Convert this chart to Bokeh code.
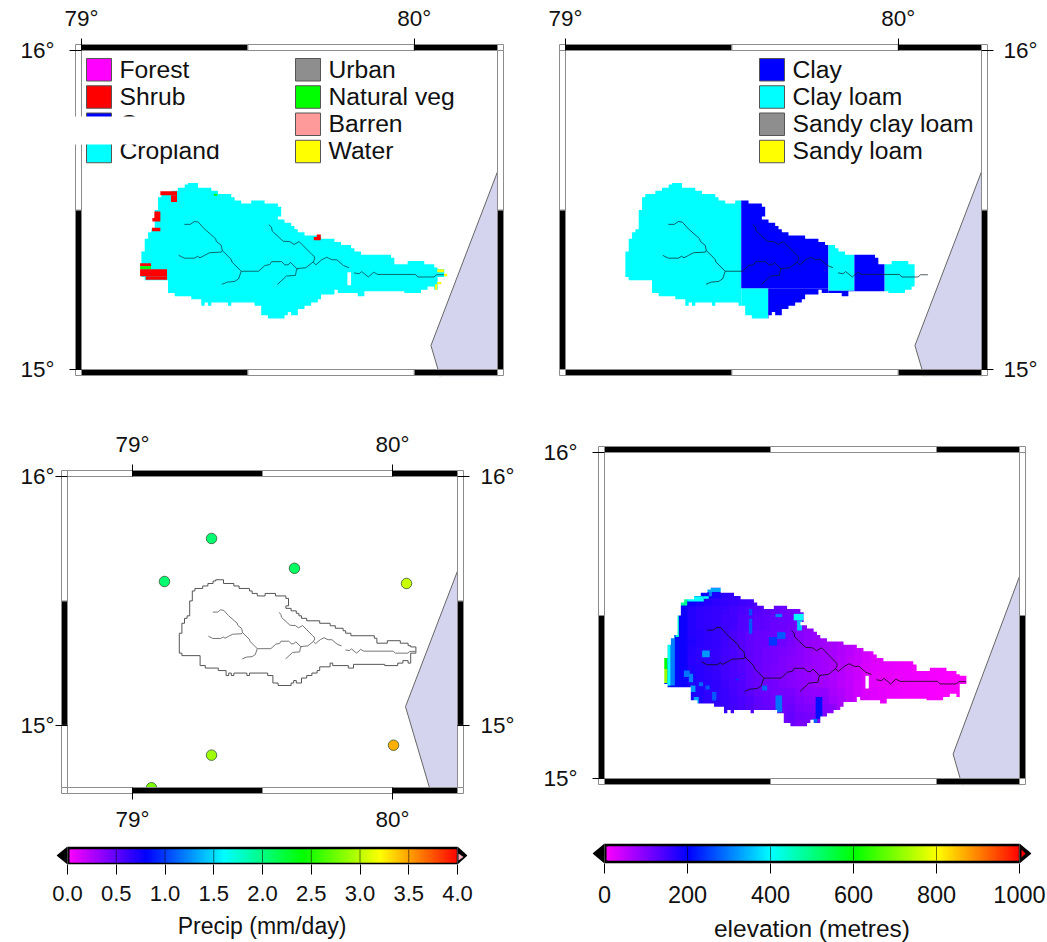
from bokeh.plotting import figure
from bokeh.layouts import column, row
from bokeh.models import Range1d, LinearAxis, FixedTicker
from bokeh.core.properties import value
from bokeh.embed import file_html
from bokeh.resources import INLINE

FONT = "Liberation Sans"
SEA = "#d4d4ee"
FRAME_GREY = "#8c8c8c"

# catchment outline (raster edge), degrees
OUT_LON = [79.18,79.19,79.19,79.20,79.20,79.21,79.21,79.22,79.22,79.23,79.23,79.24,79.24,79.27,79.27,79.29,79.29,79.31,79.31,79.32,79.32,79.35,79.35,79.39,79.39,79.41,79.41,79.45,79.45,79.46,79.46,79.48,79.48,79.51,79.51,79.55,79.55,79.59,79.59,79.60,79.60,79.59,79.59,79.61,79.61,79.63,79.63,79.64,79.64,79.65,79.65,79.67,79.67,79.72,79.72,79.76,79.76,79.78,79.78,79.81,79.81,79.82,79.82,79.84,79.84,79.87,79.87,79.93,79.93,79.94,79.94,79.98,79.98,80.03,80.03,80.06,80.06,80.07,80.07,80.09,80.09,80.07,80.07,80.06,80.06,80.04,80.04,80.02,80.02,79.97,79.97,79.85,79.85,79.83,79.83,79.77,79.77,79.76,79.76,79.72,79.72,79.71,79.71,79.69,79.69,79.67,79.67,79.65,79.65,79.63,79.63,79.62,79.62,79.61,79.61,79.56,79.56,79.54,79.54,79.52,79.52,79.45,79.45,79.44,79.44,79.39,79.39,79.38,79.38,79.37,79.37,79.36,79.36,79.33,79.33,79.28,79.28,79.26,79.26,79.19,79.19,79.18]
OUT_LAT = [15.37,15.37,15.41,15.41,15.43,15.43,15.44,15.44,15.50,15.50,15.54,15.54,15.55,15.55,15.56,15.56,15.57,15.57,15.58,15.58,15.585,15.585,15.57,15.57,15.56,15.56,15.55,15.55,15.54,15.54,15.53,15.53,15.52,15.52,15.53,15.53,15.52,15.52,15.51,15.51,15.48,15.48,15.47,15.47,15.46,15.46,15.45,15.45,15.44,15.44,15.43,15.43,15.42,15.42,15.41,15.41,15.40,15.40,15.39,15.39,15.38,15.38,15.37,15.37,15.36,15.36,15.36,15.36,15.35,15.35,15.33,15.33,15.34,15.34,15.33,15.33,15.32,15.32,15.315,15.315,15.29,15.29,15.25,15.25,15.26,15.26,15.25,15.25,15.24,15.24,15.245,15.245,15.23,15.23,15.24,15.24,15.25,15.25,15.235,15.235,15.22,15.22,15.21,15.21,15.20,15.20,15.19,15.19,15.17,15.17,15.18,15.18,15.17,15.17,15.16,15.16,15.17,15.17,15.20,15.20,15.21,15.21,15.20,15.20,15.21,15.21,15.20,15.20,15.21,15.21,15.20,15.20,15.22,15.22,15.23,15.23,15.24,15.24,15.28,15.28,15.29,15.29]

# coastline / sea polygon
COAST_LON = [80.25, 80.05, 80.142, 80.25]
COAST_LAT = [15.62, 15.075, 14.75, 14.75]

# rivers
RIV_LON = [
 [79.309,79.327,79.339,79.351,79.369,79.403,79.405,79.420,79.423,79.450,79.452,79.480],
 [79.292,79.309,79.339,79.349,79.356,79.370,79.385,79.420,79.423],
 [79.480,79.472,79.460,79.438,79.422],
 [79.480,79.532,79.551,79.566,79.571,79.601,79.611,79.621,79.628,79.648,79.652,79.674,79.696,79.701,79.699,79.693,79.654,79.639,79.626,79.606,79.573,79.571,79.563],
 [79.589,79.616,79.643,79.646,79.652],
 [79.696,79.704,79.722,79.737,79.752,79.767,79.787,79.804],
 [79.819,79.834,79.842,79.862,79.878,79.890,80.003,80.011,80.059,80.067,80.089],
]
RIV_LAT = [
 [15.455,15.455,15.464,15.462,15.441,15.410,15.402,15.389,15.373,15.345,15.337,15.308],
 [15.358,15.349,15.349,15.355,15.350,15.358,15.366,15.368,15.373],
 [15.308,15.284,15.276,15.274,15.267],
 [15.308,15.308,15.326,15.329,15.338,15.338,15.328,15.328,15.336,15.315,15.317,15.319,15.337,15.347,15.355,15.360,15.401,15.392,15.401,15.402,15.434,15.446,15.454],
 [15.267,15.293,15.295,15.313,15.317],
 [15.337,15.328,15.344,15.352,15.344,15.344,15.326,15.319],
 [15.303,15.300,15.307,15.290,15.305,15.298,15.298,15.290,15.290,15.297,15.297],
]

# land cover patches (lon0, lon1, lat0, lat1)
LC_LON0 = [79.237,79.269,79.219,79.213,79.212,79.176,79.176,79.176,79.193,79.707,79.698,79.398,80.069,80.089,80.069,80.062]
LC_LON1 = [79.287,79.287,79.237,79.237,79.237,79.209,79.209,79.257,79.257,79.719,79.719,79.408,80.089,80.099,80.081,80.069]
LC_LAT0 = [15.546,15.525,15.475,15.464,15.433,15.324,15.314,15.292,15.281,15.415,15.405,15.545,15.305,15.292,15.267,15.250]
LC_LAT1 = [15.559,15.546,15.495,15.475,15.444,15.333,15.324,15.314,15.292,15.423,15.415,15.551,15.314,15.300,15.274,15.267]
LC_CLASS = ["Shrub"]*5 + ["Shrub","Natural veg","Shrub","Shrub","Shrub","Shrub","Natural veg","Water","Water","Water","Water"]
LC_NAMES_A = ["Forest","Shrub","Grass","Cropland"]
LC_NAMES_B = ["Urban","Natural veg","Barren","Water"]
LC_COLOR = {"Forest":"#ff00ff","Shrub":"#ff0000","Grass":"#0000ff","Cropland":"#00ffff",
            "Urban":"#8e8e8e","Natural veg":"#00ff00","Barren":"#ff9a9a","Water":"#ffff00"}

# soil zones
SOIL_LON0 = [79.16,79.528,79.528,79.609,79.790,79.790,79.868,79.959]
SOIL_LON1 = [79.528,79.609,79.790,79.790,79.868,79.868,79.959,80.049]
SOIL_LAT0 = [15.13,15.13,15.255,15.13,15.247,15.13,15.13,15.13]
SOIL_LAT1 = [15.60,15.255,15.60,15.255,15.60,15.247,15.60,15.60]
SOIL_CLASS = ["Clay loam","Clay loam","Clay","Clay","Clay loam","Clay","Clay","Clay loam"]
SOIL_NAMES = ["Clay","Clay loam","Sandy clay loam","Sandy loam"]
SOIL_COLOR = {"Clay":"#0000ff","Clay loam":"#00ffff","Sandy clay loam":"#8e8e8e","Sandy loam":"#ffff00"}

# precip stations
ST_LON = [79.304,79.623,79.123,80.054,80.004,79.304,79.073]
ST_LAT = [15.751,15.631,15.578,15.570,14.920,14.880,14.749]
ST_PRECIP = [2.05,2.1,2.05,3.03,3.45,2.9,2.8]

# elevation (m) on a 0.025 degree grid, north to south, from 79.175E and 15.60N
ELEV_LON0 = 79.175
ELEV_LAT0 = 15.60
ELEV_STEP = 0.025
ELEV = [
 [230,230,230,230,230,210,210,190,165,150,140,130,120,115,110,100,95,90,85,80,75,70,60,55,45,35,30,25,20,18,15,12,10,8,6,5,4,3],
 [230,230,230,210,200,190,180,168,160,158,152,148,125,118,112,105,100,95,85,80,75,70,60,55,45,35,30,25,20,18,15,12,10,8,6,5,4,3],
 [230,230,205,188,178,170,165,160,156,152,148,138,130,120,112,108,104,100,85,80,75,70,60,55,45,35,30,25,20,18,15,12,10,8,6,5,4,3],
 [230,210,190,172,165,162,158,155,148,143,138,133,128,122,115,110,104,100,88,80,75,70,60,55,45,35,30,25,20,18,15,12,10,8,6,5,4,3],
 [230,210,190,172,165,160,158,150,148,138,133,128,125,120,115,112,104,95,88,80,75,70,60,55,45,35,30,25,20,18,15,12,10,8,6,5,4,3],
 [230,210,190,172,165,162,158,152,148,138,133,128,125,118,115,110,100,90,85,80,75,70,60,55,45,35,30,25,20,18,15,12,10,8,6,5,4,3],
 [230,208,190,172,168,162,158,152,143,133,125,120,118,115,112,108,95,88,80,78,72,66,60,52,45,35,30,25,20,18,15,12,10,8,6,5,4,3],
 [230,208,190,176,168,162,160,152,143,133,125,120,118,115,112,105,95,85,80,75,70,62,55,48,40,35,28,24,20,18,15,12,10,8,6,5,4,3],
 [230,208,190,170,165,162,158,148,143,133,125,120,112,108,105,100,92,85,78,72,68,60,55,45,35,28,25,22,20,18,15,12,10,8,6,5,4,3],
 [230,208,190,168,165,162,158,148,143,133,125,118,112,108,100,95,90,85,78,72,68,60,52,42,32,26,24,20,18,15,12,10,8,6,5,4,3,2],
 [230,208,190,172,168,162,158,148,143,133,125,118,110,105,100,95,90,82,78,72,65,58,50,40,30,24,22,18,16,14,12,10,8,6,5,4,3,2],
 [230,208,190,176,168,162,158,148,143,138,125,118,110,105,100,95,88,82,78,72,65,58,50,40,28,22,20,18,16,14,12,10,8,6,5,4,3,2],
 [230,208,190,176,172,168,162,152,143,138,125,118,112,108,100,95,90,85,80,72,65,55,48,38,26,22,20,18,15,12,10,8,6,5,4,3,2,2],
 [230,208,190,180,172,165,162,156,146,138,130,120,115,110,108,105,95,88,85,85,70,60,50,38,28,24,20,16,14,12,10,8,6,5,4,3,2,2],
 [230,208,190,180,172,165,162,156,148,143,135,125,118,112,110,110,100,92,90,90,75,65,52,40,30,24,20,16,14,12,10,8,6,5,4,3,2,2],
 [230,208,190,180,172,165,160,156,148,143,135,125,120,115,112,115,105,100,98,95,90,70,52,40,30,24,20,16,14,12,10,8,6,5,4,3,2,2],
 [230,208,190,180,172,165,160,156,148,143,135,125,120,115,112,120,110,108,105,100,95,70,52,40,30,24,20,16,14,12,10,8,6,5,4,3,2,2],
 [230,208,190,180,172,165,160,156,148,143,135,125,120,115,112,115,105,108,105,100,95,70,52,40,30,24,20,16,14,12,10,8,6,5,4,3,2,2],
]
# small high spots and the western rim: lon0, lon1, lat0, lat1, metres
SPOT_LON0 = [79.214,79.229,79.249,79.304,79.314,79.299,79.199,79.189,79.174,79.174,79.515,79.435,79.435,79.495,79.520,79.294,79.239,79.254,79.284,79.304,79.395,79.475,79.324,79.515,79.636,79.626,79.259,79.269,79.570,79.580]
SPOT_LON1 = [79.224,79.249,79.299,79.354,79.324,79.314,79.212,79.199,79.189,79.189,79.535,79.445,79.445,79.520,79.545,79.317,79.257,79.267,79.297,79.317,79.405,79.490,79.337,79.535,79.656,79.641,79.274,79.284,79.600,79.595]
SPOT_LAT0 = [15.434,15.531,15.543,15.572,15.559,15.551,15.285,15.285,15.311,15.293,15.495,15.500,15.444,15.408,15.428,15.372,15.311,15.295,15.283,15.273,15.301,15.270,15.239,15.203,15.183,15.171,15.265,15.229,15.485,15.454]
SPOT_LAT1 = [15.531,15.551,15.559,15.584,15.572,15.559,15.439,15.428,15.408,15.336,15.505,15.520,15.490,15.434,15.449,15.393,15.331,15.321,15.295,15.285,15.306,15.285,15.265,15.255,15.250,15.183,15.285,15.250,15.505,15.485]
SPOT_ELEV = [440,490,400,330,300,400,300,400,600,720,300,260,270,240,270,320,290,300,280,270,240,280,270,290,210,280,320,330,400,350]

# colour ramp
RAMP_POS = [0.0,0.2,0.4,0.6,0.8,1.0]
RAMP_RGB = [(255,0,255),(0,0,255),(0,255,255),(0,255,0),(255,255,0),(255,0,0)]

PRECIP_TICKS = [0.0,0.5,1.0,1.5,2.0,2.5,3.0,3.5,4.0]
ELEV_TICKS = [0,200,400,600,800,1000]
LON_TICKS = [79,80]
LAT_TICKS = [15,16]


def ramp(t):
    t = max(0.0, min(1.0, t))
    for i in range(len(RAMP_POS) - 1):
        if t <= RAMP_POS[i + 1]:
            f = (t - RAMP_POS[i]) / (RAMP_POS[i + 1] - RAMP_POS[i])
            a, b = RAMP_RGB[i], RAMP_RGB[i + 1]
            return "#%02x%02x%02x" % tuple(round(a[c] + (b[c] - a[c]) * f) for c in range(3))
    return "#ff0000"


class Panel:
    def __init__(self, fx0, fx1, fy0, fy1, ix0, iy0, ix1, iy1, lon0, lon1, lat0, lat1):
        self.ix0, self.iy0, self.lon0, self.lat1 = ix0, iy0, lon0, lat1
        self.lon1, self.lat0 = lon1, lat0
        self.sx = (lon1 - lon0) / (ix1 - ix0)
        self.sy = (lat1 - lat0) / (iy1 - iy0)
        self.p = figure(width=fx1 - fx0, height=fy1 - fy0,
                        frame_width=ix1 - ix0 + 14, frame_height=iy1 - iy0 + 14,
                        min_border_left=ix0 - 7 - fx0, min_border_right=fx1 - ix1 - 7,
                        min_border_top=iy0 - 7 - fy0, min_border_bottom=fy1 - iy1 - 7,
                        x_range=Range1d(lon0 - 7 * self.sx, lon1 + 7 * self.sx),
                        y_range=Range1d(lat0 - 7 * self.sy, lat1 + 7 * self.sy),
                        x_axis_type=None, y_axis_type=None, toolbar_location=None,
                        output_backend="svg", outline_line_color=None, frame_align=False)

    def lon(self, px):
        return self.lon0 + (px - self.ix0) * self.sx

    def lat(self, py):
        return self.lat1 - (py - self.iy0) * self.sy

    def frame(self):
        p, sx, sy = self.p, self.sx, self.sy
        l0, l1, a0, a1 = self.lon0, self.lon1, self.lat0, self.lat1
        # strips outside the map area stay white
        p.quad(left=[l0-8*sx, l1, l0-8*sx, l0-8*sx], right=[l0, l1+8*sx, l1+8*sx, l1+8*sx],
               bottom=[a0-8*sy, a0-8*sy, a0-8*sy, a1], top=[a1+8*sy, a1+8*sy, a0, a1+8*sy],
               fill_color="white", line_color=None)
        bw = 6
        def cuts(a, b, base):
            vals = [a]
            v = base - 2.0
            while v < b:
                if v > a:
                    vals.append(v)
                v += 0.5
            vals.append(b)
            return vals
        def is_black(v, base):
            return int(((v + 1e-6 - base) * 2) // 1) % 2 == 0
        xs = cuts(l0, l1, 79.0)
        for u, v in zip(xs[:-1], xs[1:]):
            c = "black" if is_black(u, 79.0) else "white"
            p.quad(left=[u, u], right=[v, v], bottom=[a1, a0 - bw*sy], top=[a1 + bw*sy, a0],
                   fill_color=c, line_color=FRAME_GREY, line_width=1)
        ys = cuts(a0, a1, 15.0)
        for u, v in zip(ys[:-1], ys[1:]):
            c = "black" if is_black(u, 15.0) else "white"
            p.quad(left=[l0 - bw*sx, l1], right=[l0, l1 + bw*sx], bottom=[u, u], top=[v, v],
                   fill_color=c, line_color=FRAME_GREY, line_width=1)
        p.quad(left=[l0-bw*sx, l1, l0-bw*sx, l1], right=[l0, l1+bw*sx, l0, l1+bw*sx],
               bottom=[a1, a1, a0-bw*sy, a0-bw*sy], top=[a1+bw*sy, a1+bw*sy, a0, a0],
               fill_color="white", line_color=FRAME_GREY, line_width=1)

    def axis(self, side, standoff):
        ticks = LON_TICKS if side in ("above", "below") else LAT_TICKS
        ax = LinearAxis(ticker=FixedTicker(ticks=ticks),
                        major_label_overrides={t: f"{t}\u00b0" for t in ticks},
                        axis_line_color=None, major_tick_in=7, major_tick_out=5,
                        major_tick_line_color="black", minor_tick_line_color=None,
                        major_label_text_font=FONT, major_label_text_font_size="22.5px",
                        major_label_text_color="#111111", major_label_standoff=standoff)
        if side in ("left", "right"):
            ax.major_label_orientation = "horizontal"
        self.p.add_layout(ax, side)

    def rivers(self, color, alpha=0.8, width=0.9):
        self.p.multi_line(xs=RIV_LON, ys=RIV_LAT, line_color=color, line_alpha=alpha, line_width=width)

    def sea(self):
        self.p.patch(COAST_LON, COAST_LAT, fill_color=SEA, line_color="#666666", line_width=1)

    def legend(self, sw_x, names, colors):
        for i, name in enumerate(names):
            top = 58 + i * 27.25
            self.p.quad(left=[self.lon(sw_x)], right=[self.lon(sw_x + 25)],
                        top=[self.lat(top)], bottom=[self.lat(top + 22.5)],
                        fill_color=colors[name], line_color="#555555", line_width=1)
            self.p.text(x=[self.lon(sw_x + 33)], y=[self.lat(top + 10.5)], text=[name],
                        text_font=value(FONT), text_font_size="24.7px", text_color="#111111",
                        text_baseline="middle", text_align="left")


def mask(p):
    outer_x = [79.15, 80.14, 80.14, 79.15]
    outer_y = [15.12, 15.12, 15.61, 15.61]
    p.multi_polygons(xs=[[[outer_x, OUT_LON]]], ys=[[[outer_y, OUT_LAT]]],
                     fill_color="white", line_color=None)


ROW1_END = 400
ROW2_END = 834

# --- panel 1: land cover
P1 = Panel(0, 523, 0, ROW1_END, 81, 50, 497, 369, 79.0, 80.25, 15.0, 16.0)
p = P1.p
p.patch(OUT_LON, OUT_LAT, fill_color="#00ffff", line_color=None)
p.quad(left=LC_LON0, right=LC_LON1, bottom=LC_LAT0, top=LC_LAT1,
       fill_color=[LC_COLOR[c] for c in LC_CLASS], line_color=None)
p.quad(left=[79.799], right=[79.810], bottom=[15.264], top=[15.305], fill_color="white", line_color=None)
P1.sea()
P1.rivers("#10303a")
P1.frame()
P1.legend(86, LC_NAMES_A, LC_COLOR)
P1.legend(295, LC_NAMES_B, LC_COLOR)
p.quad(left=[P1.lon(72)], right=[P1.lon(285)], bottom=[P1.lat(144)], top=[P1.lat(116)],
       fill_color="white", line_color=None)
P1.axis("above", 8)
P1.axis("left", 15)

# --- panel 2: soil
P2 = Panel(523, 1047, 0, ROW1_END, 565, 50, 981, 369, 79.0, 80.25, 15.0, 16.0)
p = P2.p
p.quad(left=SOIL_LON0, right=SOIL_LON1, bottom=SOIL_LAT0, top=SOIL_LAT1,
       fill_color=[SOIL_COLOR[c] for c in SOIL_CLASS], line_color=None)
mask(p)
P2.sea()
P2.rivers("#10202a")
P2.frame()
P2.legend(759, SOIL_NAMES, SOIL_COLOR)
P2.axis("above", 8)
P2.axis("right", 10)

# --- panel 3: precipitation stations
P3 = Panel(0, 530, ROW1_END, ROW2_END, 67, 476, 457, 787, 78.75, 80.25, 14.75, 16.0)
p = P3.p
p.line(OUT_LON + OUT_LON[:1], OUT_LAT + OUT_LAT[:1], line_color="#555555", line_width=1)
P3.rivers("#666666", alpha=1.0)
p.scatter(ST_LON, ST_LAT, size=10.5, fill_color=[ramp(v / 4.0) for v in ST_PRECIP],
          line_color="#335533", line_width=0.8)
P3.sea()
P3.frame()
P3.axis("above", 8)
P3.axis("below", 7)
P3.axis("left", 1)
P3.axis("right", 11)

# --- panel 4: elevation
P4 = Panel(530, 1047, ROW1_END, ROW2_END, 604, 452, 1019, 778, 79.0, 80.25, 15.0, 16.0)
p = P4.p
el, er, eb, et, ec = [], [], [], [], []
for j, r in enumerate(ELEV):
    for k, v in enumerate(r):
        el.append(ELEV_LON0 + k * ELEV_STEP)
        er.append(ELEV_LON0 + (k + 1) * ELEV_STEP + 0.003)
        et.append(ELEV_LAT0 - j * ELEV_STEP + 0.003)
        eb.append(ELEV_LAT0 - (j + 1) * ELEV_STEP)
        ec.append(ramp(v / 1000.0))
p.quad(left=el, right=er, bottom=eb, top=et, fill_color=ec, line_color=None)
p.quad(left=SPOT_LON0, right=SPOT_LON1, bottom=SPOT_LAT0, top=SPOT_LAT1,
       fill_color=[ramp(v / 1000.0) for v in SPOT_ELEV], line_color=None)
mask(p)
p.quad(left=[79.786], right=[79.796], bottom=[15.276], top=[15.315], fill_color="white", line_color=None)
P4.sea()
P4.rivers("#111111", alpha=0.9)
P4.frame()
P4.axis("left", 15)


# --- colour bars
def colorbar(fx0, fx1, fy0, fy1, bx0, bx1, by0, by1, vmax, ticks, fmt, label,
             tip_l, tip_r, inner_l, inner_r, in_top, in_bot, tri, tri_color, tick_size, label_size, tick_off, label_off):
    s = vmax / (bx1 - bx0)
    c = figure(width=fx1 - fx0, height=fy1 - fy0, frame_width=tip_r - tip_l, frame_height=by1 - by0,
               min_border_left=tip_l - fx0, min_border_right=fx1 - tip_r,
               min_border_top=by0 - fy0, min_border_bottom=fy1 - by1,
               x_range=Range1d((tip_l - bx0) * s, (tip_r - bx0) * s),
               y_range=Range1d(0, by1 - by0),
               x_axis_type=None, y_axis_type=None, toolbar_location=None,
               output_backend="svg", outline_line_color=None, frame_align=False)
    h = by1 - by0
    c.quad(left=[0], right=[vmax], bottom=[0], top=[h], fill_color="black", line_color=None)
    c.patch([0, (tip_l - bx0) * s, 0], [0, h / 2, h], fill_color="black", line_color=None)
    c.patch([vmax, (tip_r - bx0) * s, vmax], [0, h / 2, h], fill_color="black", line_color=None)
    n = 240
    vl = (inner_l - bx0) * s
    vr = (inner_r - bx0) * s
    ls = [vl + (vr - vl) * i / n for i in range(n)]
    rs = [vl + (vr - vl) * (i + 2.0) / n for i in range(n)]
    rs[-1] = vr
    rs[-2] = vr
    c.quad(left=ls, right=rs, bottom=[by1 - in_bot] * n, top=[by1 - in_top] * n,
           fill_color=[ramp(v / vmax) for v in ls], line_color=None)
    c.segment(x0=ticks[1:-1], x1=ticks[1:-1], y0=[by1 - in_bot] * (len(ticks) - 2), y1=[by1 - in_top] * (len(ticks) - 2),
              line_color="black", line_alpha=0.55, line_width=1)
    c.patch([(px - bx0) * s for px, _ in tri], [by1 - py for _, py in tri], fill_color=tri_color, line_color=None)
    ax = LinearAxis(ticker=FixedTicker(ticks=ticks),
                    major_label_overrides={t: fmt(t) for t in ticks},
                    axis_line_color=None, major_tick_in=0, major_tick_out=10,
                    major_tick_line_color="black", major_tick_line_width=1,
                    minor_tick_line_color=None,
                    major_label_text_font=FONT, major_label_text_font_size=tick_size,
                    major_label_text_color="#111111", major_label_standoff=tick_off,
                    axis_label=label, axis_label_text_font=FONT,
                    axis_label_text_font_size=label_size, axis_label_text_font_style="normal",
                    axis_label_text_color="#111111", axis_label_standoff=label_off)
    c.add_layout(ax, "below")
    return c


C1 = colorbar(0, 530, ROW2_END, 942, 67, 457, 846, 864, 4.0, PRECIP_TICKS, lambda t: f"{t:.1f}",
              "Precip (mm/day)", 56, 467, 69, 456, 849, 862,
              [(458, 853), (463, 856.5), (458, 860)], "#ffb0c0", "22px", "23px", 11, 9)
C2 = colorbar(530, 1047, ROW2_END, 942, 604, 1019, 843, 863, 1000, ELEV_TICKS, lambda t: f"{t}",
              "elevation (metres)", 592, 1031, 606, 1018, 846, 860,
              [(1021, 849), (1025, 853), (1021, 857)], "#ff0000", "23.5px", "24.5px", 12, 9)

root = column(row(P1.p, P2.p), row(P3.p, P4.p), row(C1, C2))
open("out.html", "w").write(file_html(root, INLINE))
